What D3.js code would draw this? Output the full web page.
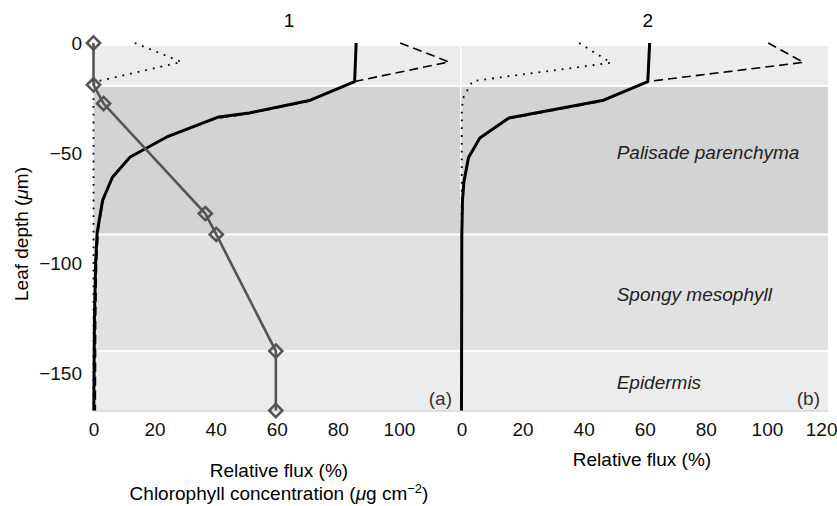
<!DOCTYPE html>
<html>
<head>
<meta charset="utf-8">
<script src="https://cdn.jsdelivr.net/npm/d3@7"></script>
<style>
  body { margin: 0; background: #fff; }
  svg { display: block; font-family: "Liberation Sans", Arial, Helvetica, sans-serif; }
</style>
</head>
<body>
<svg id="chart" width="837" height="506"></svg>
<script>
// ---- data (flux in %, depth in um; each point is [flux, depth]) ----
const panelTitles = ["1", "2"];
const panelTags = ["(a)", "(b)"];
const depthTicks = [0, -50, -100, -150];
const fluxTicks1 = [0, 20, 40, 60, 80, 100];
const fluxTicks2 = [0, 20, 40, 60, 80, 100, 120];

const layerNames = ["", "Palisade parenchyma", "Spongy mesophyll", "Epidermis"];
const layerTop = [-1.3, -19.5, -87, -140];
const layerBottom = [-19.5, -87, -140, -167];

// panel 1
const solid1 = [[86, 0], [85.5, -17.5], [71, -26], [51, -31.8], [41, -33.6], [24, -42.7], [12, -51.8],
  [6.2, -61], [3, -71.4], [1.2, -86], [0.7, -100], [0.3, -126], [0.1, -167]];
const dashed1 = [[100.4, 0], [116.4, -8.6], [85.5, -17.5], [70, -26.6], [50, -32.3], [40, -34.3],
  [23, -43.4], [11.4, -52.4], [6, -61.6], [3, -72], [1.5, -86], [1, -100], [0.7, -126], [0.6, -167]];
const dotted1 = [[13.5, 0], [28.8, -8.6], [0.3, -17.7], [0, -23], [0, -167]];

// chlorophyll profile (ug cm-2), panel 1 only
const chlDepth = [0, -19, -27.5, -77.5, -87, -140, -167];
const chlConc = [0, 0, 3.3, 36.6, 40.2, 59.7, 59.7];

// panel 2
const solid2 = [[61.6, 0], [61, -17.5], [46.5, -26], [15.5, -34.1], [6, -43.2], [2.3, -52],
  [0.8, -63], [0.3, -72], [0.1, -87], [0, -167]];
const dashed2 = [[100.4, 0], [112, -8.8], [61, -17.5], [46, -26.5], [15, -34.5], [5.7, -43.6],
  [2.2, -52.6], [0.8, -63], [0.4, -72], [0.2, -87], [0.1, -167]];
const dotted2 = [[38.5, 0], [49, -9], [3.6, -17.3], [0.7, -24.5], [0.1, -30], [0, -167]];

// ---- layout ----
var svg = d3.select("#chart"),
  fontSize = 19,
  layerColor = ["#ececec", "#d3d3d3", "#e1e1e1", "#ececec"];

var y = d3.scaleLinear().domain([0, -167]).range([43, 410.5]);
var x1 = d3.scaleLinear().domain([0, 120]).range([93.5, 460]);
var x2 = d3.scaleLinear().domain([0, 120]).range([461.5, 828]);

var panels = [
  {x: x1, solid: solid1, dashed: dashed1, dotted: dotted1, ticks: fluxTicks1, titleAt: 64},
  {x: x2, solid: solid2, dashed: dashed2, dotted: dotted2, ticks: fluxTicks2, titleAt: 61}
];

panels.forEach(function(p, i) {
  var g = svg.append("g");

  // background bands for the leaf layers, white gaps between them
  g.selectAll("rect.layer")
    .data(layerTop)
    .enter().append("rect")
    .attr("class", "layer")
    .attr("x", p.x(0))
    .attr("width", p.x(120) - p.x(0))
    .attr("y", d => y(d) + (d < -1.3 ? 1 : 0))
    .attr("height", (d, k) => y(layerBottom[k]) - y(d) - (d < -1.3 ? 1 : 0) - (k < 3 ? 1 : 0))
    .attr("fill", (d, k) => layerColor[k]);

  // x axis
  var xAxis = d3.axisBottom(p.x).tickValues(p.ticks).tickSize(0).tickPadding(12)
    .tickFormat(d3.format("d"));
  var ax = g.append("g")
    .attr("transform", "translate(0," + y(-167) + ")")
    .call(xAxis);
  ax.select(".domain").attr("stroke", "#c4c4c4").attr("stroke-width", 1);
  ax.selectAll("text").attr("font-size", fontSize).attr("fill", "#111")
    .attr("font-family", "Liberation Sans, Arial, sans-serif");
  // last label sits against the right edge of the page
  ax.selectAll("text").filter(d => d === 120).attr("text-anchor", "end").attr("dx", 9);

  var line = d3.line().x(d => p.x(d[0])).y(d => y(d[1]));

  g.append("path").datum(p.dotted)
    .attr("d", line).attr("fill", "none")
    .attr("stroke", "#000").attr("stroke-width", 1.8)
    .attr("stroke-dasharray", "1.8,6").attr("stroke-linecap", "butt");

  g.append("path").datum(p.dashed)
    .attr("d", line).attr("fill", "none")
    .attr("stroke", "#000").attr("stroke-width", 1.6)
    .attr("stroke-dasharray", "9,5");

  g.append("path").datum(p.solid)
    .attr("d", line).attr("fill", "none")
    .attr("stroke", "#000").attr("stroke-width", 3)
    .attr("stroke-linejoin", "round");

  // panel number on top
  svg.append("text")
    .attr("x", p.x(p.titleAt)).attr("y", 26.5)
    .attr("text-anchor", "middle").attr("font-size", fontSize)
    .text(panelTitles[i]);

  // (a) / (b)
  svg.append("text")
    .attr("x", p.x(120) - 8).attr("y", 405)
    .attr("text-anchor", "end").attr("font-size", fontSize).attr("fill", "#333")
    .text(panelTags[i]);
});

// chlorophyll concentration profile, panel 1
var chl = chlDepth.map((d, i) => [chlConc[i], d]);
svg.append("path").datum(chl)
  .attr("d", d3.line().x(d => x1(d[0])).y(d => y(d[1])))
  .attr("fill", "none").attr("stroke", "#555").attr("stroke-width", 2.6);

svg.selectAll("path.chl")
  .data(chl)
  .enter().append("path")
  .attr("class", "chl")
  .attr("d", d3.symbol(d3.symbolDiamond2, 110))
  .attr("transform", d => "translate(" + x1(d[0]) + "," + y(d[1]) + ")")
  .attr("fill", "none").attr("stroke", "#555").attr("stroke-width", 2.6);

// y axis (labels only)
var yAx = svg.append("g")
  .attr("transform", "translate(" + x1(0) + ",0)")
  .call(d3.axisLeft(y).tickValues(depthTicks).tickSize(0).tickPadding(11.5)
    .tickFormat(d => d3.format("d")(d).replace("-", "\u2212")));
yAx.select(".domain").remove();
yAx.selectAll("text").attr("font-size", fontSize).attr("fill", "#111")
  .attr("font-family", "Liberation Sans, Arial, sans-serif");

// layer names (italic), in panel 2
var labelDepth = [0, -52.7, -117.3, -157.3];
layerNames.forEach(function(n, k) {
  if (!n) return;
  svg.append("text")
    .attr("x", x2(50.8)).attr("y", y(labelDepth[k]))
    .attr("font-size", fontSize).attr("font-style", "italic").attr("fill", "#222")
    .text(n);
});

// axis titles
var yl = svg.append("text")
  .attr("transform", "translate(28," + 234 + ") rotate(-90)")
  .attr("text-anchor", "middle").attr("font-size", fontSize);
yl.append("tspan").text("Leaf depth (");
yl.append("tspan").attr("font-style", "italic").text("\u03bc");
yl.append("tspan").text("m)");

svg.append("text")
  .attr("x", 279).attr("y", 477)
  .attr("text-anchor", "middle").attr("font-size", fontSize)
  .text("Relative flux (%)");

var cl = svg.append("text")
  .attr("x", 279).attr("y", 500)
  .attr("text-anchor", "middle").attr("font-size", fontSize);
cl.append("tspan").text("Chlorophyll concentration (");
cl.append("tspan").attr("font-style", "italic").text("\u03bc");
cl.append("tspan").text("g cm");
cl.append("tspan").attr("font-size", 13).attr("dy", -7).text("\u22122");
cl.append("tspan").attr("dy", 7).text(")");

svg.append("text")
  .attr("x", 642).attr("y", 466)
  .attr("text-anchor", "middle").attr("font-size", fontSize)
  .text("Relative flux (%)");
</script>
</body>
</html>
